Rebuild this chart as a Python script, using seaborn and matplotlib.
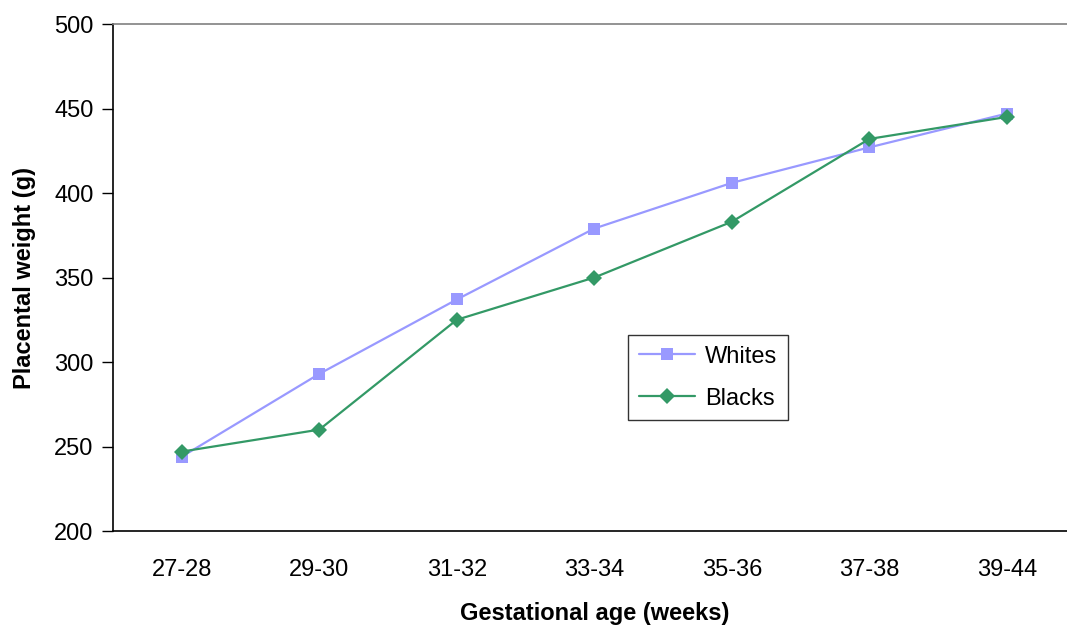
import numpy as np
import pandas as pd
import matplotlib
matplotlib.use("Agg")
import matplotlib.pyplot as plt
from matplotlib.ticker import FixedLocator, NullFormatter
import seaborn as sns

# Placental weight by gestational age group
age_groups = ["27-28", "29-30", "31-32", "33-34", "35-36", "37-38", "39-44"]
whites = [244, 293, 337, 379, 406, 427, 447]
blacks = [247, 260, 325, 350, 383, 432, 445]

sns.set_style("white")
plt.rcParams["font.family"] = ["Liberation Sans", "DejaVu Sans"]
plt.rcParams["text.color"] = "black"
plt.rcParams["axes.labelcolor"] = "black"
plt.rcParams["xtick.color"] = "black"
plt.rcParams["ytick.color"] = "black"

pos = np.arange(len(age_groups))
df = pd.concat([
    pd.DataFrame({"pos": pos, "weight": whites, "group": "Whites"}),
    pd.DataFrame({"pos": pos, "weight": blacks, "group": "Blacks"}),
])

fig = plt.figure(figsize=(10.67, 6.27), dpi=100)
ax = fig.add_axes([0.106, 0.1531, 0.902, 0.8086])

palette = {"Whites": "#9999FF", "Blacks": "#339966"}
markers = {"Whites": "s", "Blacks": "D"}
sizes = {"Whites": 8.5, "Blacks": 8.5}
for name in ["Whites", "Blacks"]:
    sub = df[df["group"] == name]
    sns.lineplot(data=sub, x="pos", y="weight", ax=ax, color=palette[name],
                 marker=markers[name], markersize=sizes[name],
                 markeredgewidth=0, linewidth=1.6, label=name)

ax.set_xlim(-0.5, len(age_groups) - 0.5)
ax.set_ylim(200, 500)
ax.set_yticks(np.arange(200, 501, 50))
ax.set_xticks(pos)
ax.set_xticklabels(age_groups)
ax.xaxis.set_minor_locator(FixedLocator(np.arange(-0.5, len(age_groups), 1.0)))
ax.xaxis.set_minor_formatter(NullFormatter())
ax.tick_params(axis="x", which="major", length=0, pad=20, labelsize=17)
ax.tick_params(axis="x", which="minor", length=14, width=1, direction="inout",
               color="black")
ax.tick_params(axis="y", which="major", length=8, width=1, direction="out",
               color="black", pad=6, labelsize=17, left=True)

for side in ["left", "bottom"]:
    ax.spines[side].set_color("black")
    ax.spines[side].set_linewidth(1.2)
ax.spines["top"].set_color("#808080")
ax.spines["top"].set_linewidth(1.2)
ax.spines["right"].set_visible(False)

ax.set_xlabel("Gestational age (weeks)", fontsize=17, fontweight="bold", labelpad=15)
ax.set_ylabel("Placental weight (g)", fontsize=17, fontweight="bold", labelpad=13)

leg = ax.legend(loc="upper left", bbox_to_anchor=(0.5886, 0.4657),
                bbox_transform=fig.transFigure, fontsize=17, frameon=True,
                fancybox=False, edgecolor="black", borderpad=0.45,
                handlelength=2.4, handletextpad=0.4, labelspacing=0.85,
                borderaxespad=0)
leg.get_frame().set_linewidth(1.0)

fig.savefig("out.png", dpi=100)
